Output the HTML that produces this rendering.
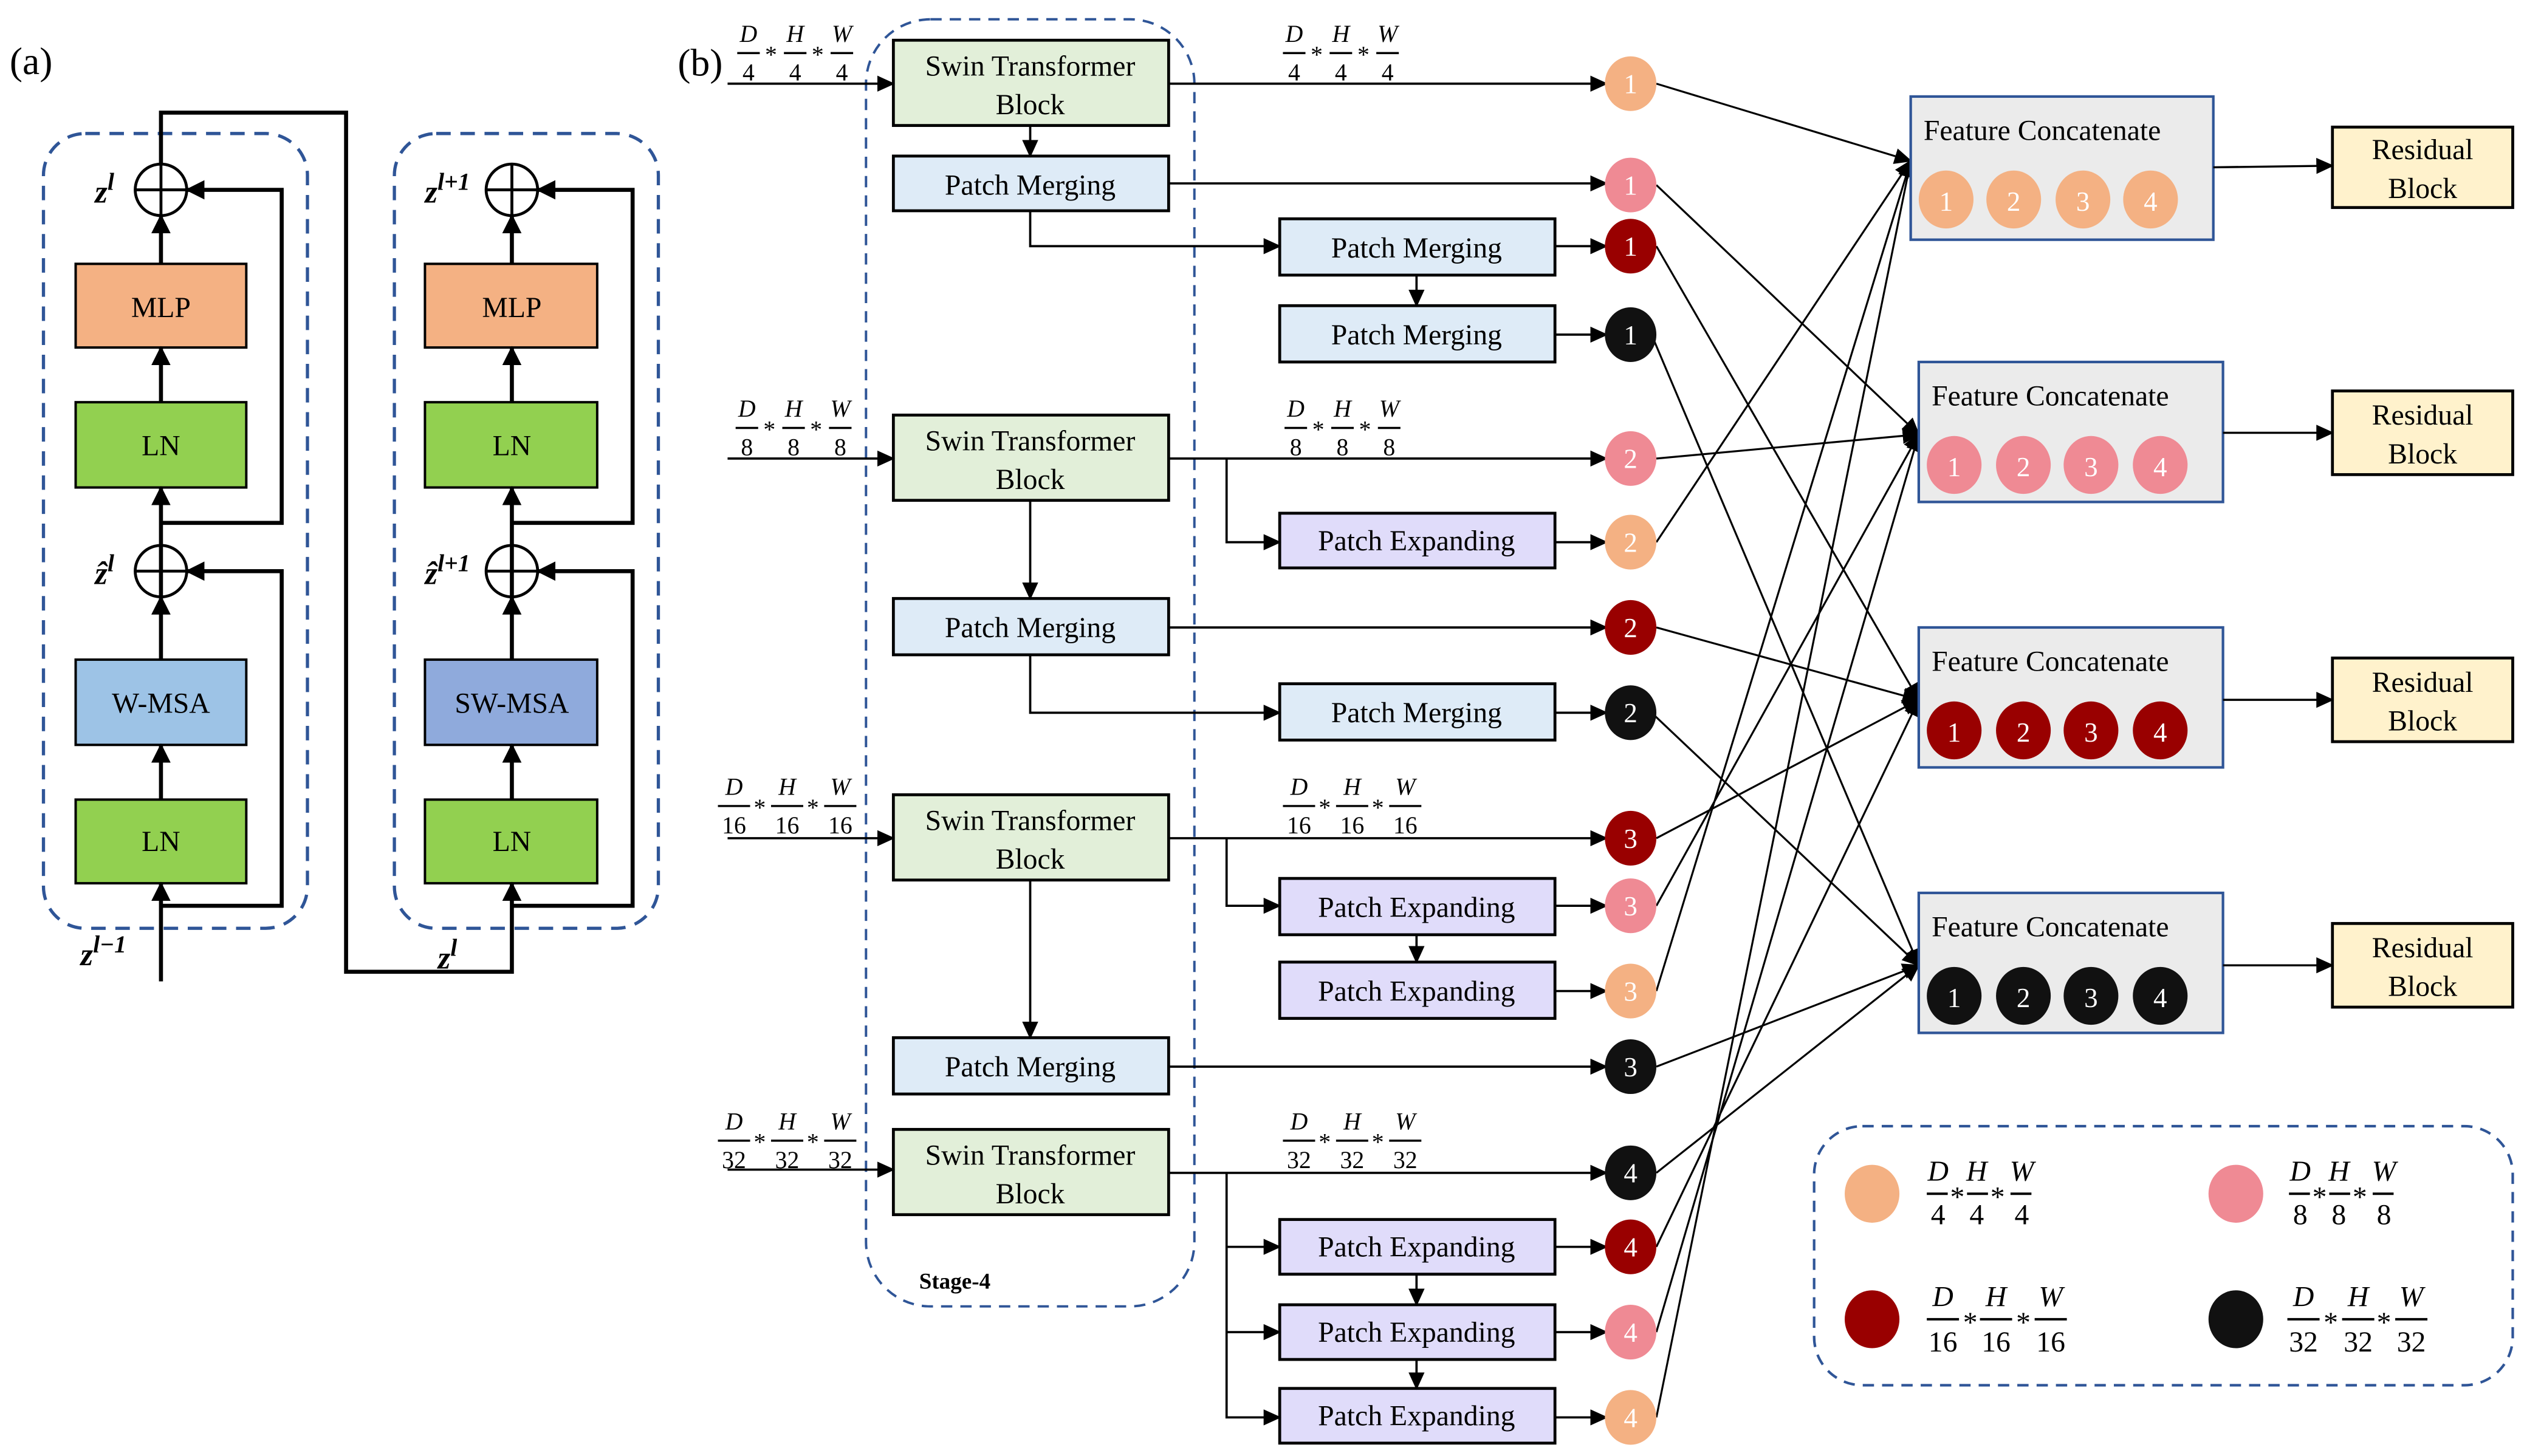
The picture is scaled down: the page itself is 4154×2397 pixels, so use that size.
<!DOCTYPE html>
<html><head><meta charset="utf-8"><style>
html,body{margin:0;padding:0;background:#fff;}
svg{display:block;}
text{font-family:"Liberation Serif",serif;}
.b{font-size:18px;text-anchor:middle;}
.f{font-size:15px;text-anchor:middle;}
.fi{font-size:15px;text-anchor:middle;font-style:italic;}
.cw{font-size:17px;text-anchor:middle;fill:#fff;}
</style></head><body>
<svg width="4154" height="2397" viewBox="0 0 1568 905" preserveAspectRatio="none" xmlns="http://www.w3.org/2000/svg">
<defs>
<marker id="a" markerUnits="userSpaceOnUse" markerWidth="11" markerHeight="10" refX="10" refY="5" orient="auto"><path d="M0,0 L11,5 L0,10 z" fill="#000"/></marker>
<marker id="A" markerUnits="userSpaceOnUse" markerWidth="12" markerHeight="12" refX="11" refY="6" orient="auto"><path d="M0,0 L12,6 L0,12 z" fill="#000"/></marker>
</defs>
<rect width="1568" height="905" fill="#fff"/>

<!-- (a) -->
<text x="6" y="46" font-size="24">(a)</text>
<rect x="27" y="83" width="164" height="494" rx="26" fill="none" stroke="#2f5597" stroke-width="2" stroke-dasharray="9,6"/>
<rect x="245" y="83" width="164" height="494" rx="26" fill="none" stroke="#2f5597" stroke-width="2" stroke-dasharray="9,6"/>
<g stroke="#000" stroke-width="1.5">
<rect x="47" y="164" width="106" height="52" fill="#f4b183"/>
<rect x="47" y="250" width="106" height="53" fill="#92d050"/>
<rect x="47" y="410" width="106" height="53" fill="#9dc3e6"/>
<rect x="47" y="497" width="106" height="52" fill="#92d050"/>
<rect x="264" y="164" width="107" height="52" fill="#f4b183"/>
<rect x="264" y="250" width="107" height="53" fill="#92d050"/>
<rect x="264" y="410" width="107" height="53" fill="#8faadc"/>
<rect x="264" y="497" width="107" height="52" fill="#92d050"/>
</g>
<text class="b" x="100" y="197">MLP</text>
<text class="b" x="100" y="283">LN</text>
<text class="b" x="100" y="443">W-MSA</text>
<text class="b" x="100" y="529">LN</text>
<text class="b" x="318" y="197">MLP</text>
<text class="b" x="318" y="283">LN</text>
<text class="b" x="318" y="443">SW-MSA</text>
<text class="b" x="318" y="529">LN</text>
<g fill="none" stroke="#000" stroke-width="2.5">
<circle cx="100" cy="118" r="16" stroke-width="1.8"/><path d="M84,118h32M100,102v32" stroke-width="1.8"/>
<circle cx="100" cy="355" r="16" stroke-width="1.8"/><path d="M84,355h32M100,339v32" stroke-width="1.8"/>
<circle cx="318" cy="118" r="16" stroke-width="1.8"/><path d="M302,118h32M318,102v32" stroke-width="1.8"/>
<circle cx="318" cy="355" r="16" stroke-width="1.8"/><path d="M302,355h32M318,339v32" stroke-width="1.8"/>
<path d="M100,164V134" marker-end="url(#A)"/>
<path d="M100,250V216" marker-end="url(#A)"/>
<path d="M100,371V303" marker-end="url(#A)"/>
<path d="M100,410V371" marker-end="url(#A)"/>
<path d="M100,497V463" marker-end="url(#A)"/>
<path d="M100,610V549" marker-end="url(#A)"/>
<path d="M100,325H175V118H116" marker-end="url(#A)"/>
<path d="M100,563H175V355H116" marker-end="url(#A)"/>
<path d="M318,164V134" marker-end="url(#A)"/>
<path d="M318,250V216" marker-end="url(#A)"/>
<path d="M318,371V303" marker-end="url(#A)"/>
<path d="M318,410V371" marker-end="url(#A)"/>
<path d="M318,497V463" marker-end="url(#A)"/>
<path d="M318,325H393V118H334" marker-end="url(#A)"/>
<path d="M318,563H393V355H334" marker-end="url(#A)"/>
<path d="M100,102V70H215V604H318V549" marker-end="url(#A)"/>
</g>
<g font-weight="bold" font-style="italic" font-size="20">
<text x="59" y="126">z<tspan font-size="15" dy="-8">l</tspan></text>
<text x="59" y="363">ẑ<tspan font-size="15" dy="-8">l</tspan></text>
<text x="50" y="600">z<tspan font-size="15" dy="-8">l−1</tspan></text>
<text x="264" y="126">z<tspan font-size="15" dy="-8">l+1</tspan></text>
<text x="264" y="363">ẑ<tspan font-size="15" dy="-8">l+1</tspan></text>
<text x="272" y="602">z<tspan font-size="15" dy="-8">l</tspan></text>
</g>

<!-- (b) -->
<text x="421" y="47" font-size="24">(b)</text>
<rect x="538" y="12" width="204" height="800" rx="40" fill="none" stroke="#2f5597" stroke-width="1.5" stroke-dasharray="7,5"/>
<text x="571" y="801" font-size="14" font-weight="bold">Stage-4</text>

<g stroke="#000" stroke-width="1.8">
<rect x="555" y="25" width="171" height="53" fill="#e2efd9"/>
<rect x="555" y="97" width="171" height="34" fill="#deebf7"/>
<rect x="555" y="258" width="171" height="53" fill="#e2efd9"/>
<rect x="555" y="372" width="171" height="35" fill="#deebf7"/>
<rect x="555" y="494" width="171" height="53" fill="#e2efd9"/>
<rect x="555" y="645" width="171" height="35" fill="#deebf7"/>
<rect x="555" y="702" width="171" height="53" fill="#e2efd9"/>
<rect x="795" y="136" width="171" height="35" fill="#deebf7"/>
<rect x="795" y="190" width="171" height="35" fill="#deebf7"/>
<rect x="795" y="319" width="171" height="34" fill="#e0dcfa"/>
<rect x="795" y="425" width="171" height="35" fill="#deebf7"/>
<rect x="795" y="546" width="171" height="35" fill="#e0dcfa"/>
<rect x="795" y="598" width="171" height="35" fill="#e0dcfa"/>
<rect x="795" y="758" width="171" height="34" fill="#e0dcfa"/>
<rect x="795" y="811" width="171" height="34" fill="#e0dcfa"/>
<rect x="795" y="863" width="171" height="34" fill="#e0dcfa"/>
</g>
<text class="b" x="640" y="47">Swin Transformer</text><text class="b" x="640" y="71">Block</text>
<text class="b" x="640" y="121">Patch Merging</text>
<text class="b" x="640" y="280">Swin Transformer</text><text class="b" x="640" y="304">Block</text>
<text class="b" x="640" y="396">Patch Merging</text>
<text class="b" x="640" y="516">Swin Transformer</text><text class="b" x="640" y="540">Block</text>
<text class="b" x="640" y="669">Patch Merging</text>
<text class="b" x="640" y="724">Swin Transformer</text><text class="b" x="640" y="748">Block</text>
<text class="b" x="880" y="160">Patch Merging</text>
<text class="b" x="880" y="214">Patch Merging</text>
<text class="b" x="880" y="342">Patch Expanding</text>
<text class="b" x="880" y="449">Patch Merging</text>
<text class="b" x="880" y="570">Patch Expanding</text>
<text class="b" x="880" y="622">Patch Expanding</text>
<text class="b" x="880" y="781">Patch Expanding</text>
<text class="b" x="880" y="834">Patch Expanding</text>
<text class="b" x="880" y="886">Patch Expanding</text>

<g fill="none" stroke="#000" stroke-width="1.4">
<path d="M452,52H555" marker-end="url(#a)"/>
<path d="M452,285H555" marker-end="url(#a)"/>
<path d="M452,521H555" marker-end="url(#a)"/>
<path d="M452,727H555" marker-end="url(#a)"/>
<path d="M726,52H998" marker-end="url(#a)"/>
<path d="M640,78V97" marker-end="url(#a)"/>
<path d="M726,114H998" marker-end="url(#a)"/>
<path d="M640,131V153H795" marker-end="url(#a)"/>
<path d="M966,153H998" marker-end="url(#a)"/>
<path d="M880,171V190" marker-end="url(#a)"/>
<path d="M966,208H998" marker-end="url(#a)"/>
<path d="M726,285H998" marker-end="url(#a)"/>
<path d="M762,285V337H795" marker-end="url(#a)"/>
<path d="M966,337H998" marker-end="url(#a)"/>
<path d="M640,311V372" marker-end="url(#a)"/>
<path d="M726,390H998" marker-end="url(#a)"/>
<path d="M640,407V443H795" marker-end="url(#a)"/>
<path d="M966,443H998" marker-end="url(#a)"/>
<path d="M726,521H998" marker-end="url(#a)"/>
<path d="M762,521V563H795" marker-end="url(#a)"/>
<path d="M966,563H998" marker-end="url(#a)"/>
<path d="M880,581V598" marker-end="url(#a)"/>
<path d="M966,616H998" marker-end="url(#a)"/>
<path d="M640,547V645" marker-end="url(#a)"/>
<path d="M726,663H998" marker-end="url(#a)"/>
<path d="M726,729H998" marker-end="url(#a)"/>
<path d="M762,729V881H795" marker-end="url(#a)"/>
<path d="M762,775H795" marker-end="url(#a)"/>
<path d="M762,828H795" marker-end="url(#a)"/>
<path d="M966,775H998" marker-end="url(#a)"/>
<path d="M966,828H998" marker-end="url(#a)"/>
<path d="M966,881H998" marker-end="url(#a)"/>
<path d="M880,792V811" marker-end="url(#a)"/>
<path d="M880,845V863" marker-end="url(#a)"/>
</g>

<!-- cross connections -->
<g fill="none" stroke="#000" stroke-width="1.2">
<path d="M1029,52L1187,100" marker-end="url(#a)"/>
<path d="M1029,337L1187,100" marker-end="url(#a)"/>
<path d="M1029,616L1187,100" marker-end="url(#a)"/>
<path d="M1029,881L1187,100" marker-end="url(#a)"/>
<path d="M1029,115L1192,270" marker-end="url(#a)"/>
<path d="M1029,285L1192,270" marker-end="url(#a)"/>
<path d="M1029,563L1192,270" marker-end="url(#a)"/>
<path d="M1029,828L1192,270" marker-end="url(#a)"/>
<path d="M1029,153L1192,435" marker-end="url(#a)"/>
<path d="M1029,390L1192,435" marker-end="url(#a)"/>
<path d="M1029,521L1192,435" marker-end="url(#a)"/>
<path d="M1029,775L1192,435" marker-end="url(#a)"/>
<path d="M1026,208L1192,600" marker-end="url(#a)"/>
<path d="M1026,443L1192,600" marker-end="url(#a)"/>
<path d="M1029,663L1192,600" marker-end="url(#a)"/>
<path d="M1029,729L1192,600" marker-end="url(#a)"/>
</g>

<!-- circles -->
<g>
<ellipse cx="1013" cy="52" rx="16" ry="17" fill="#f4b183"/><text class="cw" x="1013" y="58">1</text>
<ellipse cx="1013" cy="115" rx="16" ry="17" fill="#ef8a94"/><text class="cw" x="1013" y="121">1</text>
<ellipse cx="1013" cy="153" rx="16" ry="17" fill="#990000"/><text class="cw" x="1013" y="159">1</text>
<ellipse cx="1013" cy="208" rx="16" ry="17" fill="#111"/><text class="cw" x="1013" y="214">1</text>
<ellipse cx="1013" cy="285" rx="16" ry="17" fill="#ef8a94"/><text class="cw" x="1013" y="291">2</text>
<ellipse cx="1013" cy="337" rx="16" ry="17" fill="#f4b183"/><text class="cw" x="1013" y="343">2</text>
<ellipse cx="1013" cy="390" rx="16" ry="17" fill="#990000"/><text class="cw" x="1013" y="396">2</text>
<ellipse cx="1013" cy="443" rx="16" ry="17" fill="#111"/><text class="cw" x="1013" y="449">2</text>
<ellipse cx="1013" cy="521" rx="16" ry="17" fill="#990000"/><text class="cw" x="1013" y="527">3</text>
<ellipse cx="1013" cy="563" rx="16" ry="17" fill="#ef8a94"/><text class="cw" x="1013" y="569">3</text>
<ellipse cx="1013" cy="616" rx="16" ry="17" fill="#f4b183"/><text class="cw" x="1013" y="622">3</text>
<ellipse cx="1013" cy="663" rx="16" ry="17" fill="#111"/><text class="cw" x="1013" y="669">3</text>
<ellipse cx="1013" cy="729" rx="16" ry="17" fill="#111"/><text class="cw" x="1013" y="735">4</text>
<ellipse cx="1013" cy="775" rx="16" ry="17" fill="#990000"/><text class="cw" x="1013" y="781">4</text>
<ellipse cx="1013" cy="828" rx="16" ry="17" fill="#ef8a94"/><text class="cw" x="1013" y="834">4</text>
<ellipse cx="1013" cy="881" rx="16" ry="17" fill="#f4b183"/><text class="cw" x="1013" y="887">4</text>
</g>

<!-- Feature concatenate -->
<g stroke="#2f5597" stroke-width="1.6" fill="#ebebeb">
<rect x="1187" y="60" width="188" height="89"/>
<rect x="1192" y="225" width="189" height="87"/>
<rect x="1192" y="390" width="189" height="87"/>
<rect x="1192" y="555" width="189" height="87"/>
</g>
<text x="1195" y="87" font-size="18">Feature Concatenate</text>
<text x="1200" y="252" font-size="18">Feature Concatenate</text>
<text x="1200" y="417" font-size="18">Feature Concatenate</text>
<text x="1200" y="582" font-size="18">Feature Concatenate</text>
<g>
<ellipse cx="1209" cy="124" rx="17" ry="18" fill="#f4b183"/><text class="cw" x="1209" y="131">1</text>
<ellipse cx="1251" cy="124" rx="17" ry="18" fill="#f4b183"/><text class="cw" x="1251" y="131">2</text>
<ellipse cx="1294" cy="124" rx="17" ry="18" fill="#f4b183"/><text class="cw" x="1294" y="131">3</text>
<ellipse cx="1336" cy="124" rx="17" ry="18" fill="#f4b183"/><text class="cw" x="1336" y="131">4</text>
<ellipse cx="1214" cy="289" rx="17" ry="18" fill="#ef8a94"/><text class="cw" x="1214" y="296">1</text>
<ellipse cx="1257" cy="289" rx="17" ry="18" fill="#ef8a94"/><text class="cw" x="1257" y="296">2</text>
<ellipse cx="1299" cy="289" rx="17" ry="18" fill="#ef8a94"/><text class="cw" x="1299" y="296">3</text>
<ellipse cx="1342" cy="289" rx="17" ry="18" fill="#ef8a94"/><text class="cw" x="1342" y="296">4</text>
<ellipse cx="1214" cy="454" rx="17" ry="18" fill="#990000"/><text class="cw" x="1214" y="461">1</text>
<ellipse cx="1257" cy="454" rx="17" ry="18" fill="#990000"/><text class="cw" x="1257" y="461">2</text>
<ellipse cx="1299" cy="454" rx="17" ry="18" fill="#990000"/><text class="cw" x="1299" y="461">3</text>
<ellipse cx="1342" cy="454" rx="17" ry="18" fill="#990000"/><text class="cw" x="1342" y="461">4</text>
<ellipse cx="1214" cy="619" rx="17" ry="18" fill="#111"/><text class="cw" x="1214" y="626">1</text>
<ellipse cx="1257" cy="619" rx="17" ry="18" fill="#111"/><text class="cw" x="1257" y="626">2</text>
<ellipse cx="1299" cy="619" rx="17" ry="18" fill="#111"/><text class="cw" x="1299" y="626">3</text>
<ellipse cx="1342" cy="619" rx="17" ry="18" fill="#111"/><text class="cw" x="1342" y="626">4</text>
</g>

<!-- Residual -->
<g stroke="#000" stroke-width="1.8" fill="#fff2cc">
<rect x="1449" y="79" width="112" height="50"/>
<rect x="1449" y="243" width="112" height="52"/>
<rect x="1449" y="409" width="112" height="52"/>
<rect x="1449" y="574" width="112" height="52"/>
</g>
<text class="b" x="1505" y="99">Residual</text><text class="b" x="1505" y="123">Block</text>
<text class="b" x="1505" y="264">Residual</text><text class="b" x="1505" y="288">Block</text>
<text class="b" x="1505" y="430">Residual</text><text class="b" x="1505" y="454">Block</text>
<text class="b" x="1505" y="595">Residual</text><text class="b" x="1505" y="619">Block</text>
<g fill="none" stroke="#000" stroke-width="1.3">
<path d="M1375,104L1449,103" marker-end="url(#a)"/>
<path d="M1381,269H1449" marker-end="url(#a)"/>
<path d="M1381,435H1449" marker-end="url(#a)"/>
<path d="M1381,600H1449" marker-end="url(#a)"/>
</g>

<!-- fraction labels -->
<g stroke="#000" stroke-width="1.3">
<path d="M458,33h14M487,33h14M516,33h14"/>
<path d="M797,33h14M826,33h14M855,33h14"/>
<path d="M457,266h14M486,266h14M515,266h14"/>
<path d="M798,266h14M827,266h14M856,266h14"/>
<path d="M446,501h20M479,501h20M512,501h20"/>
<path d="M797,501h20M830,501h20M863,501h20"/>
<path d="M446,709h20M479,709h20M512,709h20"/>
<path d="M797,709h20M830,709h20M863,709h20"/>
</g>
<text class="fi" x="465" y="26">D</text><text class="fi" x="494" y="26">H</text><text class="fi" x="523" y="26">W</text>
<text class="f" x="465" y="50">4</text><text class="f" x="494" y="50">4</text><text class="f" x="523" y="50">4</text>
<text class="f" x="479" y="39">*</text><text class="f" x="508" y="39">*</text>
<text class="fi" x="804" y="26">D</text><text class="fi" x="833" y="26">H</text><text class="fi" x="862" y="26">W</text>
<text class="f" x="804" y="50">4</text><text class="f" x="833" y="50">4</text><text class="f" x="862" y="50">4</text>
<text class="f" x="818" y="39">*</text><text class="f" x="847" y="39">*</text>

<text class="fi" x="464" y="259">D</text><text class="fi" x="493" y="259">H</text><text class="fi" x="522" y="259">W</text>
<text class="f" x="464" y="283">8</text><text class="f" x="493" y="283">8</text><text class="f" x="522" y="283">8</text>
<text class="f" x="478" y="272">*</text><text class="f" x="507" y="272">*</text>
<text class="fi" x="805" y="259">D</text><text class="fi" x="834" y="259">H</text><text class="fi" x="863" y="259">W</text>
<text class="f" x="805" y="283">8</text><text class="f" x="834" y="283">8</text><text class="f" x="863" y="283">8</text>
<text class="f" x="819" y="272">*</text><text class="f" x="848" y="272">*</text>

<text class="fi" x="456" y="494">D</text><text class="fi" x="489" y="494">H</text><text class="fi" x="522" y="494">W</text>
<text class="f" x="456" y="518">16</text><text class="f" x="489" y="518">16</text><text class="f" x="522" y="518">16</text>
<text class="f" x="472" y="507">*</text><text class="f" x="505" y="507">*</text>
<text class="fi" x="807" y="494">D</text><text class="fi" x="840" y="494">H</text><text class="fi" x="873" y="494">W</text>
<text class="f" x="807" y="518">16</text><text class="f" x="840" y="518">16</text><text class="f" x="873" y="518">16</text>
<text class="f" x="823" y="507">*</text><text class="f" x="856" y="507">*</text>

<text class="fi" x="456" y="702">D</text><text class="fi" x="489" y="702">H</text><text class="fi" x="522" y="702">W</text>
<text class="f" x="456" y="726">32</text><text class="f" x="489" y="726">32</text><text class="f" x="522" y="726">32</text>
<text class="f" x="472" y="715">*</text><text class="f" x="505" y="715">*</text>
<text class="fi" x="807" y="702">D</text><text class="fi" x="840" y="702">H</text><text class="fi" x="873" y="702">W</text>
<text class="f" x="807" y="726">32</text><text class="f" x="840" y="726">32</text><text class="f" x="873" y="726">32</text>
<text class="f" x="823" y="715">*</text><text class="f" x="856" y="715">*</text>

<!-- legend -->
<rect x="1127" y="700" width="434" height="161" rx="30" fill="none" stroke="#2f5597" stroke-width="1.6" stroke-dasharray="7,5"/>
<ellipse cx="1163" cy="742" rx="17" ry="18" fill="#f4b183"/>
<ellipse cx="1389" cy="742" rx="17" ry="18" fill="#ef8a94"/>
<ellipse cx="1163" cy="820" rx="17" ry="18" fill="#990000"/>
<ellipse cx="1389" cy="820" rx="17" ry="18" fill="#111"/>
<g stroke="#000" stroke-width="1.5">
<path d="M1197,742h13M1222,742h13M1249,742h13"/>
<path d="M1422,742h13M1447,742h13M1474,742h13"/>
<path d="M1197,820h20M1230,820h20M1264,820h20"/>
<path d="M1421,820h20M1455,820h20M1488,820h20"/>
</g>
<g font-size="18">
<text class="fi" style="font-size:18px" x="1204" y="734">D</text><text class="fi" style="font-size:18px" x="1228" y="734">H</text><text class="fi" style="font-size:18px" x="1256" y="734">W</text>
<text class="f" style="font-size:18px" x="1204" y="761">4</text><text class="f" style="font-size:18px" x="1228" y="761">4</text><text class="f" style="font-size:18px" x="1256" y="761">4</text>
<text class="f" style="font-size:18px" x="1216" y="750">*</text><text class="f" style="font-size:18px" x="1241" y="750">*</text>
<text class="fi" style="font-size:18px" x="1429" y="734">D</text><text class="fi" style="font-size:18px" x="1453" y="734">H</text><text class="fi" style="font-size:18px" x="1481" y="734">W</text>
<text class="f" style="font-size:18px" x="1429" y="761">8</text><text class="f" style="font-size:18px" x="1453" y="761">8</text><text class="f" style="font-size:18px" x="1481" y="761">8</text>
<text class="f" style="font-size:18px" x="1441" y="750">*</text><text class="f" style="font-size:18px" x="1466" y="750">*</text>
<text class="fi" style="font-size:18px" x="1207" y="812">D</text><text class="fi" style="font-size:18px" x="1240" y="812">H</text><text class="fi" style="font-size:18px" x="1274" y="812">W</text>
<text class="f" style="font-size:18px" x="1207" y="840">16</text><text class="f" style="font-size:18px" x="1240" y="840">16</text><text class="f" style="font-size:18px" x="1274" y="840">16</text>
<text class="f" style="font-size:18px" x="1224" y="828">*</text><text class="f" style="font-size:18px" x="1257" y="828">*</text>
<text class="fi" style="font-size:18px" x="1431" y="812">D</text><text class="fi" style="font-size:18px" x="1465" y="812">H</text><text class="fi" style="font-size:18px" x="1498" y="812">W</text>
<text class="f" style="font-size:18px" x="1431" y="840">32</text><text class="f" style="font-size:18px" x="1465" y="840">32</text><text class="f" style="font-size:18px" x="1498" y="840">32</text>
<text class="f" style="font-size:18px" x="1448" y="828">*</text><text class="f" style="font-size:18px" x="1481" y="828">*</text>
</g>
</svg>
</body></html>
